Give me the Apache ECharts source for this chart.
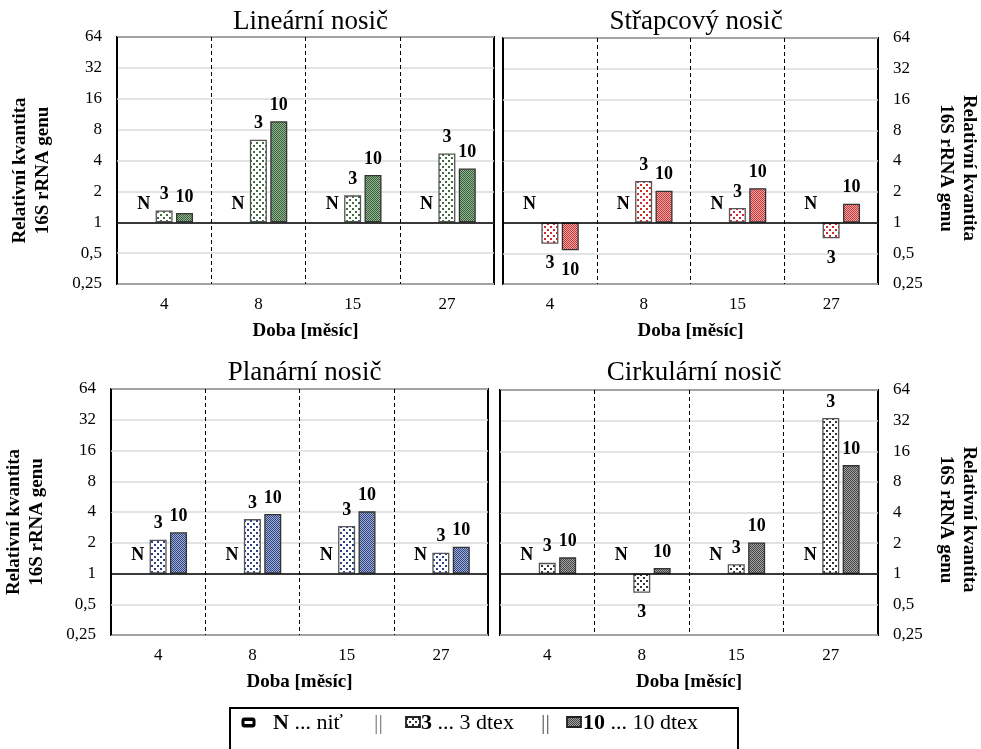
<!DOCTYPE html>
<html>
<head>
<meta charset="utf-8">
<script src="https://cdn.jsdelivr.net/npm/echarts@6/dist/echarts.min.js"></script>
<style>
  html, body { margin: 0; padding: 0; background: #fff; }
  #chart { width: 981px; height: 749px; }
</style>
</head>
<body>
<div id="chart"></div>
<script>
// Sampling months (x categories)
const months = ['4', '8', '15', '27'];
// Fibre types: N = thread, 3 = 3 dtex, 10 = 10 dtex
const seriesNames = ['N', '3', '10'];
// Log2 value axis range
const yMin = 0.25;
const yMax = 64;

const panelTitles = ['Lineární nosič', 'Střapcový nosič', 'Planární nosič', 'Cirkulární nosič'];

// Relative quantity of 16S rRNA gene (thread N is the reference = 1)
const linearN   = [1, 1, 1, 1];
const linear3   = [1.30, 6.37, 1.83, 4.69];
const linear10  = [1.23, 9.66, 2.89, 3.34];

const tuftN     = [1, 1, 1, 1];
const tuft3     = [0.62, 2.55, 1.39, 0.70];
const tuft10    = [0.535, 2.05, 2.17, 1.53];

const planarN   = [1, 1, 1, 1];
const planar3   = [2.14, 3.41, 2.92, 1.60];
const planar10  = [2.53, 3.82, 4.06, 1.83];

const circularN  = [1, 1, 1, 1];
const circular3  = [1.28, 0.65, 1.24, 34];
const circular10 = [1.45, 1.14, 2.03, 11.7];

const panelData = [
  [linearN, linear3, linear10],
  [tuftN, tuft3, tuft10],
  [planarN, planar3, planar10],
  [circularN, circular3, circular10]
];

const FONT = 'Liberation Serif, Times New Roman, serif';

// Pattern tiles for bar fills
function sparseDots(dot) {
  const c = document.createElement('canvas');
  c.width = 6; c.height = 6;
  const g = c.getContext('2d');
  g.fillStyle = '#ffffff';
  g.fillRect(0, 0, 6, 6);
  g.fillStyle = dot;
  g.fillRect(1, 1, 2, 2);
  g.fillRect(4, 4, 2, 2);
  return { image: c, repeat: 'repeat' };
}
function denseMesh(dark, light) {
  const c = document.createElement('canvas');
  c.width = 2; c.height = 2;
  const g = c.getContext('2d');
  g.fillStyle = light;
  g.fillRect(0, 0, 2, 2);
  g.fillStyle = dark;
  g.fillRect(0, 0, 1, 1);
  g.fillRect(1, 1, 1, 1);
  return { image: c, repeat: 'repeat' };
}

const palettes = [
  { dot: '#3f6f3f', dark: '#38603a', light: '#94b494' },
  { dot: '#d42a2a', dark: '#c23a3a', light: '#f0a4a4' },
  { dot: '#2b3f8a', dark: '#31457f', light: '#9eaed6' },
  { dot: '#333333', dark: '#444444', light: '#a4a4a4' }
];

const grids = [
  { left: 117, top: 37,  width: 377, height: 247, side: 'left',  titleTop: 3 },
  { left: 503, top: 38,  width: 376, height: 246, side: 'right', titleTop: 3 },
  { left: 111, top: 389, width: 377, height: 246, side: 'left',  titleTop: 354 },
  { left: 500, top: 390, width: 378, height: 245, side: 'right', titleTop: 354 }
];

const labelFont = { fontFamily: FONT, fontSize: 18, fontWeight: 'bold', color: '#000' };

const option = {
  animation: false,
  backgroundColor: '#fff',
  title: [],
  grid: [],
  xAxis: [],
  yAxis: [],
  series: [],
  graphic: []
};

grids.forEach((g, i) => {
  option.title.push({
    text: panelTitles[i],
    left: g.left + g.width / 2,
    top: g.titleTop,
    textAlign: 'center',
    textStyle: { fontFamily: FONT, fontSize: 27, fontWeight: 'normal', color: '#000' }
  });
  option.grid.push({
    left: g.left, top: g.top, width: g.width, height: g.height,
    show: true, borderColor: '#000', borderWidth: 2, backgroundColor: 'transparent',
    containLabel: false
  });
  option.xAxis.push({
    type: 'category',
    gridIndex: i,
    data: months,
    axisLine: { show: false },
    axisTick: { show: false },
    axisLabel: { margin: 12, fontFamily: FONT, fontSize: 17, color: '#000' },
    splitLine: { show: true, interval: 0, lineStyle: { type: [4, 3], color: '#000', width: 1 } },
    name: 'Doba [měsíc]',
    nameLocation: 'middle',
    nameGap: 38,
    nameTextStyle: { fontFamily: FONT, fontSize: 19, fontWeight: 'bold', color: '#000' }
  });
  const left = g.side === 'left';
  option.yAxis.push({
    type: 'log',
    logBase: 2,
    gridIndex: i,
    position: g.side,
    min: yMin,
    max: yMax,
    interval: 1,
    splitNumber: 8,
    axisLine: { show: false },
    axisTick: { show: false },
    axisLabel: {
      margin: 15, fontFamily: FONT, fontSize: 17, color: '#000',
      formatter: v => String(+Number(v).toPrecision(6)).replace('.', ',')
    },
    splitLine: { show: true, lineStyle: { color: '#dadada', width: 1.5 } },
    name: 'Relativní kvantita\n16S rRNA genu',
    nameLocation: 'middle',
    nameGap: left ? 62 : 56,
    nameRotate: left ? 90 : -90,
    nameTextStyle: {
      fontFamily: FONT, fontSize: 19, fontWeight: 'bold', color: '#000', lineHeight: 23,
      padding: left ? [0, 20, 0, 0] : [0, 0, 0, 14]
    }
  });

  const pal = palettes[i];
  const fills = [
    { color: 'transparent', borderWidth: 0 },
    { color: sparseDots(pal.dot), borderColor: '#555', borderWidth: 1.3 },
    { color: denseMesh(pal.dark, pal.light), borderColor: '#333', borderWidth: 1.3 }
  ];

  panelData[i].forEach((vals, s) => {
    const ser = {
      type: 'bar',
      name: seriesNames[s],
      xAxisIndex: i,
      yAxisIndex: i,
      barWidth: 17,
      barGap: '20%',
      itemStyle: fills[s],
      label: Object.assign({ show: true, formatter: '{a}', position: 'top', distance: s === 0 ? 9 : 7 }, labelFont),
      data: vals.map(v => (v < 1
        ? { value: v, label: { position: 'bottom', distance: 11 } }
        : { value: v }))
    };
    if (s === 0) {
      ser.markLine = {
        silent: true,
        symbol: 'none',
        label: { show: false },
        lineStyle: { color: '#000', width: 1.5, type: 'solid' },
        data: [{ yAxis: 1 }]
      };
    }
    option.series.push(ser);
  });
});

// Legend box at the bottom
const legendY = 723;
const richBold = { b: { fontFamily: FONT, fontSize: 22, fontWeight: 'bold', fill: '#000' } };
option.graphic = [
  { type: 'rect', shape: { x: 230, y: 708, width: 508, height: 50 },
    style: { fill: '#fff', stroke: '#000', lineWidth: 2 }, z: 10 },
  { type: 'rect', shape: { x: 242, y: legendY - 5, width: 13, height: 9, r: 2 },
    style: { fill: '#000', stroke: '#000', lineWidth: 1 }, z: 11 },
  { type: 'rect', shape: { x: 244.5, y: legendY - 2, width: 8, height: 3 },
    style: { fill: '#fff' }, z: 12 },
  { type: 'text', x: 273, y: legendY, z: 11,
    style: { text: '{b|N} ... niť', fontFamily: FONT, fontSize: 22, fill: '#000', verticalAlign: 'middle', rich: richBold } },
  { type: 'text', x: 374, y: legendY, z: 11,
    style: { text: '||', fontFamily: FONT, fontSize: 22, fill: '#777', verticalAlign: 'middle' } },
  { type: 'rect', shape: { x: 406, y: legendY - 6, width: 14, height: 10 },
    style: { fill: sparseDots('#333'), stroke: '#222', lineWidth: 1.8 }, z: 11 },
  { type: 'text', x: 421, y: legendY, z: 11,
    style: { text: '{b|3} ... 3 dtex', fontFamily: FONT, fontSize: 22, fill: '#000', verticalAlign: 'middle', rich: richBold } },
  { type: 'text', x: 541, y: legendY, z: 11,
    style: { text: '||', fontFamily: FONT, fontSize: 22, fill: '#555', verticalAlign: 'middle' } },
  { type: 'rect', shape: { x: 567, y: legendY - 6, width: 14, height: 10 },
    style: { fill: denseMesh('#444444', '#a4a4a4'), stroke: '#222', lineWidth: 1.8 }, z: 11 },
  { type: 'text', x: 583, y: legendY, z: 11,
    style: { text: '{b|10} ... 10 dtex', fontFamily: FONT, fontSize: 22, fill: '#000', verticalAlign: 'middle', rich: richBold } }
];

const chart = echarts.init(document.getElementById('chart'), null, { renderer: 'canvas' });
chart.setOption(option);
</script>
</body>
</html>
